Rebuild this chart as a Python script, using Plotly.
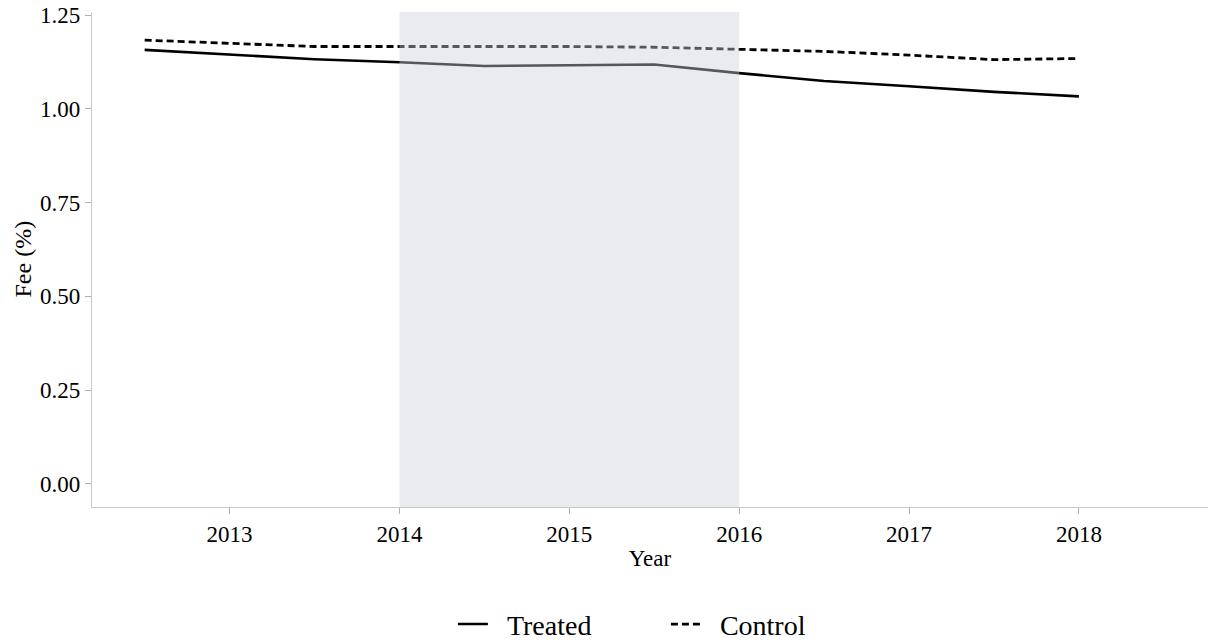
import plotly.graph_objects as go

# Average fee by half-year
years = [2012.5, 2013.0, 2013.5, 2014.0, 2014.5, 2015.0, 2015.5, 2016.0, 2016.5, 2017.0, 2017.5, 2018.0]
treated = [1.157, 1.145, 1.132, 1.124, 1.114, 1.116, 1.118, 1.095, 1.074, 1.060, 1.045, 1.033]
control = [1.183, 1.175, 1.166, 1.166, 1.167, 1.166, 1.164, 1.159, 1.153, 1.143, 1.131, 1.134]

x_ticks = [2013, 2014, 2015, 2016, 2017, 2018]
y_ticks = [0.00, 0.25, 0.50, 0.75, 1.00, 1.25]
y_tick_labels = ["0.00", "0.25", "0.50", "0.75", "1.00", "1.25"]

# Shaded period
shade_start, shade_end = 2014, 2016

FONT = "Liberation Serif"
PAD = "\u00a0\u00a0"  # extra gap between legend symbol and label

fig = go.Figure()
fig.add_trace(go.Scatter(
    x=years, y=treated, name=PAD + "Treated", mode="lines",
    line=dict(color="black", width=2.6),
))
fig.add_trace(go.Scatter(
    x=years, y=control, name=PAD + "Control", mode="lines",
    line=dict(color="black", width=2.8, dash="7px,4px"),
))

fig.add_shape(
    type="rect", xref="x", yref="paper",
    x0=shade_start, x1=shade_end, y0=0, y1=1,
    fillcolor="rgba(205,208,218,0.42)", line=dict(width=0),
    layer="above",
)

# Vertical axis title placed at a fixed distance from the page edge
fig.add_annotation(
    text="Fee (%)", textangle=-90,
    xref="paper", yref="paper", x=0, y=0.5,
    xshift=-70, xanchor="center", yanchor="middle", showarrow=False,
    font=dict(family=FONT, size=24, color="black"),
)

axis_common = dict(
    showgrid=False, zeroline=False, showline=True,
    linecolor="#c8c8c8", linewidth=1.2,
    ticks="outside", ticklen=6, tickcolor="#b0b0b0", tickwidth=1,
    tickfont=dict(family=FONT, size=23, color="black"),
    automargin=False,
)

fig.update_layout(
    width=1211, height=643, autosize=False,
    margin=dict(l=92, r=3, t=12, b=136, autoexpand=False),
    paper_bgcolor="white", plot_bgcolor="white",
    font=dict(family=FONT, color="black"),
    showlegend=True,
    legend=dict(
        orientation="h", xref="container", yref="container",
        x=0.374, xanchor="left", y=0.029, yanchor="middle",
        font=dict(family=FONT, size=28, color="black"),
        itemwidth=30, entrywidth=168, entrywidthmode="pixels",
        tracegroupgap=0,
    ),
    xaxis=dict(
        **axis_common,
        range=[2012.19, 2018.76],
        tickmode="array", tickvals=x_ticks,
        ticktext=[str(v) for v in x_ticks],
        title=dict(text="Year", font=dict(family=FONT, size=23), standoff=4),
    ),
    yaxis=dict(
        **axis_common,
        range=[-0.062, 1.258],
        tickmode="array", tickvals=y_ticks, ticktext=y_tick_labels,
    ),
)

fig.write_html("out.html")
